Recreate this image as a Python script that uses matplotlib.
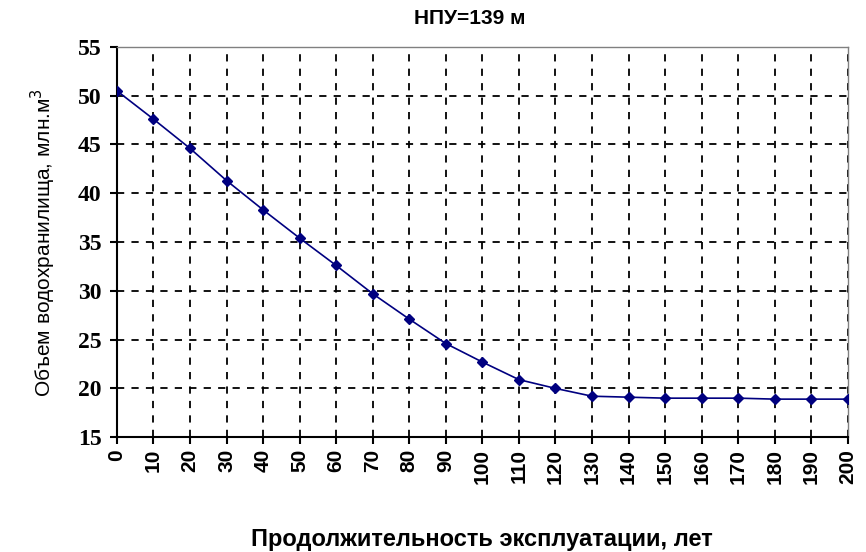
import matplotlib
matplotlib.use('Agg')
import matplotlib.pyplot as plt

# Продолжительность эксплуатации, лет
years = [0, 10, 20, 30, 40, 50, 60, 70, 80, 90, 100,
         110, 120, 130, 140, 150, 160, 170, 180, 190, 200]
# Объем водохранилища, млн.м3
volume = [50.5, 47.6, 44.6, 41.3, 38.3, 35.4, 32.6, 29.7, 27.1, 24.6, 22.7,
          20.9, 20.0, 19.2, 19.1, 19.0, 19.0, 19.0, 18.9, 18.9, 18.9]

x_ticks = list(range(0, 201, 10))
y_ticks = list(range(15, 56, 5))

plt.rcParams['font.family'] = ['Liberation Sans', 'DejaVu Sans']

fig = plt.figure(figsize=(8.66, 5.52), dpi=100)
ax = fig.add_axes([0.135, 0.208, 0.844, 0.707])

ax.plot(years, volume, color='#000080', linewidth=1.2, marker='D',
        markersize=5.5, markerfacecolor='#000080', markeredgecolor='#000080',
        zorder=3)

ax.set_xlim(0, 200)
ax.set_ylim(15, 55)
ax.set_xticks(x_ticks)
ax.set_yticks(y_ticks)
ax.set_xticklabels([str(v) for v in x_ticks], rotation=90, fontsize=15,
                   fontweight='bold')
ax.set_yticklabels([str(v) for v in y_ticks], fontsize=17, fontweight='bold',
                   family='Liberation Serif')

ax.grid(True, color='black', linestyle=(0, (4, 4)), linewidth=1.3)
ax.set_axisbelow(True)

for side in ['left', 'bottom']:
    ax.spines[side].set_color('black')
    ax.spines[side].set_linewidth(1.5)
for side in ['top', 'right']:
    ax.spines[side].set_color('#808080')
    ax.spines[side].set_linewidth(1.0)

ax.tick_params(axis='both', direction='out', length=5, width=1.5, color='black')
ax.tick_params(axis='y', pad=6)

fig.text(0.543, 0.967, 'НПУ=139 м', fontsize=15, fontweight='bold',
         ha='center', va='center')
ax.set_xlabel('Продолжительность эксплуатации, лет', fontsize=17,
              fontweight='bold', labelpad=32)
ax.set_ylabel('Объем водохранилища, млн.м$^3$', fontsize=15, labelpad=14)

fig.savefig('out.png', dpi=100)
